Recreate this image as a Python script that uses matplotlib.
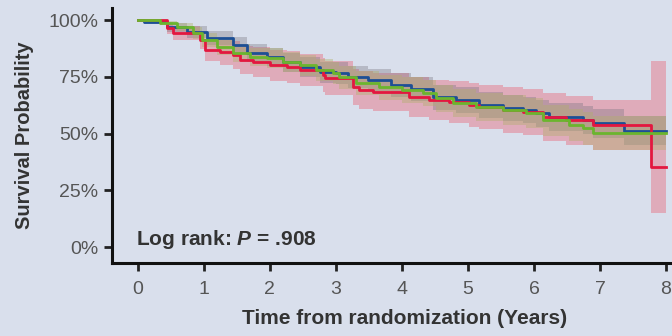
import matplotlib
matplotlib.use("Agg")
import matplotlib.pyplot as plt

plt.rcParams['font.family'] = ['Liberation Sans', 'DejaVu Sans']
plt.rcParams['mathtext.fontset'] = 'custom'
plt.rcParams['mathtext.it'] = 'Liberation Sans:bold:italic'

# red arm
red_t = [0, 0.45, 0.53, 0.94, 1.02, 1.24, 1.44, 1.55, 1.74, 2.0, 2.26, 2.45, 2.8, 2.83,
         3.26, 3.35, 3.56, 4.1, 4.41, 4.71, 5.02, 5.17, 5.53, 5.83, 6.14, 6.48, 6.89, 7.77, 8.0]
red_s = [1.0, 0.965, 0.943, 0.912, 0.868, 0.859, 0.846, 0.824, 0.815, 0.802, 0.793, 0.780, 0.758, 0.744,
         0.705, 0.692, 0.683, 0.661, 0.648, 0.639, 0.626, 0.617, 0.604, 0.595, 0.573, 0.559, 0.537, 0.352, 0.352]
red_lo = [1.0, 0.94, 0.913, 0.872, 0.818, 0.804, 0.786, 0.762, 0.75, 0.734, 0.723, 0.708, 0.683, 0.668,
          0.625, 0.61, 0.599, 0.573, 0.558, 0.547, 0.531, 0.52, 0.504, 0.493, 0.468, 0.451, 0.427, 0.15, 0.15]
red_hi = [1.0, 0.99, 0.973, 0.952, 0.918, 0.914, 0.906, 0.886, 0.88, 0.87, 0.863, 0.852, 0.833, 0.82,
          0.785, 0.774, 0.767, 0.749, 0.738, 0.731, 0.721, 0.714, 0.704, 0.697, 0.678, 0.667, 0.647, 0.82, 0.82]

# blue arm
blue_t = [0, 0.1, 0.44, 0.74, 1.05, 1.44, 1.65, 1.95, 2.2, 2.45, 2.76, 3.0, 3.18, 3.48,
          3.83, 4.14, 4.47, 4.82, 5.17, 5.53, 5.83, 6.03, 6.23, 6.74, 6.89, 7.37, 8.0]
blue_s = [1.0, 0.991, 0.969, 0.947, 0.921, 0.89, 0.855, 0.837, 0.815, 0.793, 0.771, 0.767, 0.749, 0.736,
          0.714, 0.696, 0.661, 0.648, 0.626, 0.612, 0.604, 0.59, 0.573, 0.559, 0.546, 0.513, 0.513]
blue_lo = [1.0, 0.981, 0.949, 0.922, 0.891, 0.855, 0.817, 0.797, 0.773, 0.749, 0.725, 0.72, 0.701, 0.686,
           0.662, 0.643, 0.606, 0.592, 0.569, 0.554, 0.545, 0.53, 0.512, 0.497, 0.483, 0.448, 0.448]
blue_hi = [1.0, 1.0, 0.989, 0.972, 0.951, 0.925, 0.893, 0.877, 0.857, 0.837, 0.817, 0.814, 0.797, 0.786,
           0.766, 0.749, 0.716, 0.704, 0.683, 0.67, 0.663, 0.65, 0.634, 0.621, 0.609, 0.578, 0.578]

# green arm
green_t = [0, 0.33, 0.59, 0.83, 0.98, 1.2, 1.44, 1.7, 1.95, 2.2, 2.45, 2.7, 2.95, 3.05,
           3.3, 3.65, 4.0, 4.32, 4.52, 4.77, 5.12, 5.53, 5.88, 6.14, 6.53, 6.74, 6.89, 8.0]
green_s = [1.0, 0.987, 0.969, 0.943, 0.912, 0.881, 0.855, 0.837, 0.833, 0.815, 0.802, 0.780, 0.767, 0.749,
           0.722, 0.705, 0.692, 0.678, 0.656, 0.634, 0.617, 0.604, 0.590, 0.559, 0.537, 0.524, 0.502, 0.502]
green_lo = [1.0, 0.977, 0.951, 0.918, 0.882, 0.846, 0.817, 0.797, 0.791, 0.771, 0.756, 0.732, 0.717, 0.698,
            0.669, 0.65, 0.635, 0.62, 0.596, 0.573, 0.555, 0.54, 0.524, 0.491, 0.467, 0.452, 0.427, 0.427]
green_hi = [1.0, 0.997, 0.987, 0.968, 0.942, 0.916, 0.893, 0.877, 0.875, 0.859, 0.848, 0.828, 0.817, 0.8,
            0.775, 0.76, 0.749, 0.736, 0.716, 0.695, 0.679, 0.668, 0.656, 0.627, 0.607, 0.596, 0.577, 0.577]

x_ticks = [0, 1, 2, 3, 4, 5, 6, 7, 8]
y_ticks = [0, 0.25, 0.5, 0.75, 1.0]
y_labels = ["0%", "25%", "50%", "75%", "100%"]

bg = "#d9dfec"
fig = plt.figure(figsize=(6.72, 3.36), dpi=100, facecolor=bg)
ax = fig.add_axes([0.1667, 0.217, 0.8333, 0.759], facecolor=bg)

ax.fill_between(red_t, red_lo, red_hi, step="post", color="#e5788a", alpha=0.5, lw=0)
ax.fill_between(blue_t, blue_lo, blue_hi, step="post", color="#77737e", alpha=0.35, lw=0)
ax.fill_between(green_t, green_lo, green_hi, step="post", color="#b0b06a", alpha=0.4, lw=0)

ax.step(blue_t, blue_s, where="post", color="#1d4f95", lw=2.0)
ax.step(red_t, red_s, where="post", color="#e3173f", lw=2.0)
ax.step(green_t, green_s, where="post", color="#6bb52e", lw=2.0)

ax.set_xlim(-0.39, 8.09)
ax.set_ylim(-0.07, 1.053)
ax.set_xticks(x_ticks)
ax.set_yticks(y_ticks)
ax.set_yticklabels(y_labels)
ax.tick_params(axis="both", colors="#222222", labelcolor="#555555", labelsize=14,
               width=2, length=6, direction="out")
ax.tick_params(axis="x", pad=7)
ax.tick_params(axis="y", pad=4)
for side in ["top", "right"]:
    ax.spines[side].set_visible(False)
for side in ["left", "bottom"]:
    ax.spines[side].set_linewidth(2.2)
    ax.spines[side].set_color("#111111")

ax.set_xlabel("Time from randomization (Years)", fontsize=15, fontweight="bold",
              color="#333333", labelpad=8)
ax.xaxis.label.set_x(0.523)
ax.set_ylabel("Survival Probability", fontsize=14.5, fontweight="bold",
              color="#333333", labelpad=10)
ax.text(-0.02, 0.01, "Log rank: $P$ = .908", fontsize=15, fontweight="bold",
        color="#333333", va="baseline", ha="left")

fig.savefig("out.png", dpi=100, facecolor=bg)
